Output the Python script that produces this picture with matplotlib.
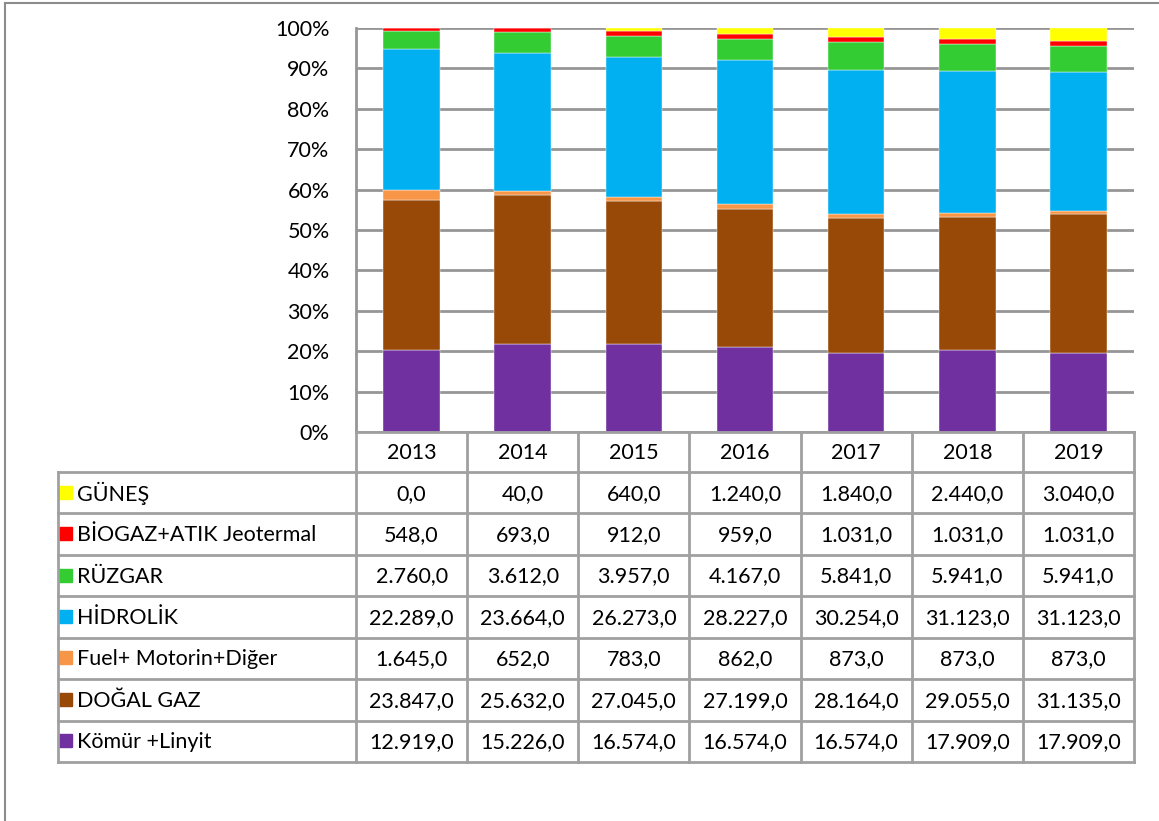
import matplotlib
matplotlib.use("Agg")
import matplotlib.pyplot as plt
from matplotlib.lines import Line2D
from matplotlib.patches import Rectangle
import numpy as np

plt.rcParams['font.family'] = ['Lato', 'DejaVu Sans']

years = ["2013", "2014", "2015", "2016", "2017", "2018", "2019"]
# table order (top to bottom)
series_names = ["GÜNEŞ", "BİOGAZ+ATIK Jeotermal", "RÜZGAR", "HİDROLİK",
                "Fuel+ Motorin+Diğer", "DOĞAL GAZ", "Kömür +Linyit"]
gunes = [0.0, 40.0, 640.0, 1240.0, 1840.0, 2440.0, 3040.0]
biogaz = [548.0, 693.0, 912.0, 959.0, 1031.0, 1031.0, 1031.0]
ruzgar = [2760.0, 3612.0, 3957.0, 4167.0, 5841.0, 5941.0, 5941.0]
hidrolik = [22289.0, 23664.0, 26273.0, 28227.0, 30254.0, 31123.0, 31123.0]
fuel = [1645.0, 652.0, 783.0, 862.0, 873.0, 873.0, 873.0]
dogalgaz = [23847.0, 25632.0, 27045.0, 27199.0, 28164.0, 29055.0, 31135.0]
komur = [12919.0, 15226.0, 16574.0, 16574.0, 16574.0, 17909.0, 17909.0]
colors = ["#FFFF00", "#FF0000", "#33CC33", "#00B0F0", "#F79646", "#984807", "#7030A0"]

series = [gunes, biogaz, ruzgar, hidrolik, fuel, dogalgaz, komur]

W, H = 1159, 821
fig = plt.figure(figsize=(W / 100, H / 100), dpi=100)

# outer frame
frame = fig.add_axes([0, 0, 1, 1])
frame.set_xlim(0, W)
frame.set_ylim(H, 0)
frame.axis('off')
frame.add_line(Line2D([5, 5], [3, H], color='#8C8C8C', lw=1.5))
frame.add_line(Line2D([5, W], [3, 3], color='#8C8C8C', lw=1.5))

# bar chart
x0, x1, ytop, ybot = 356, 1134, 28, 432
ax = fig.add_axes([x0 / W, 1 - ybot / H, (x1 - x0) / W, (ybot - ytop) / H])
data = np.array(series, dtype=float)
totals = data.sum(axis=0)
shares = data / totals
x = np.arange(len(years))
bottom = np.zeros(len(years))
for i in range(len(series) - 1, -1, -1):
    ax.bar(x, shares[i], bottom=bottom, width=0.51, color=colors[i],
           edgecolor='white', linewidth=0.3, zorder=3)
    bottom += shares[i]
ax.set_xlim(-0.5, len(years) - 0.5)
ax.set_ylim(0, 1)
ax.set_yticks(np.arange(0, 1.01, 0.1))
ax.set_yticklabels([f"{int(round(v * 100))}%" for v in np.arange(0, 1.01, 0.1)], fontsize=15.5)
ax.tick_params(axis='y', length=0, pad=19)
ax.set_xticks([])
ax.grid(axis='y', color='#969696', lw=2, zorder=0)
ax.set_axisbelow(True)
for s in ['top', 'right', 'bottom']:
    ax.spines[s].set_visible(False)
ax.spines['left'].set_color('#969696')
ax.spines['left'].set_linewidth(2)

# table
tx0, ty0, ty1 = 58, 432, 762
header_bottom = 472
nrows = len(series_names)
rh = (ty1 - header_bottom) / nrows
cw = (x1 - x0) / len(years)
tab = fig.add_axes([0, 0, 1, 1])
tab.set_xlim(0, W)
tab.set_ylim(H, 0)
tab.axis('off')
lc = '#A0A0A0'
lw = 2
# header row lines
tab.add_line(Line2D([x0, x1], [ty0, ty0], color=lc, lw=lw))
for j in range(len(years) + 1):
    xx = x0 + j * cw
    tab.add_line(Line2D([xx, xx], [ty0, ty1], color=lc, lw=lw))
for j, yr in enumerate(years):
    tab.text(x0 + (j + 0.5) * cw, (ty0 + header_bottom) / 2 + 1, yr,
             ha='center', va='center', fontsize=15.5)
# body rows
tab.add_line(Line2D([tx0, tx0], [header_bottom, ty1], color=lc, lw=lw))
for r in range(nrows + 1):
    yy = header_bottom + r * rh
    tab.add_line(Line2D([tx0, x1], [yy, yy], color=lc, lw=lw))


def fmt(v):
    s = f"{v:,.1f}"
    return s.replace(",", "X").replace(".", ",").replace("X", ".")


for r, (name, vals, col) in enumerate(zip(series_names, series, colors)):
    yc = header_bottom + (r + 0.5) * rh
    tab.add_patch(Rectangle((59, yc - 7), 13, 13, color=col))
    tab.text(77, yc + 1, name, ha='left', va='center', fontsize=15.5)
    for j, v in enumerate(vals):
        tab.text(x0 + (j + 0.5) * cw, yc + 1, fmt(v), ha='center', va='center', fontsize=15.5)

fig.savefig("out.png", dpi=100)
